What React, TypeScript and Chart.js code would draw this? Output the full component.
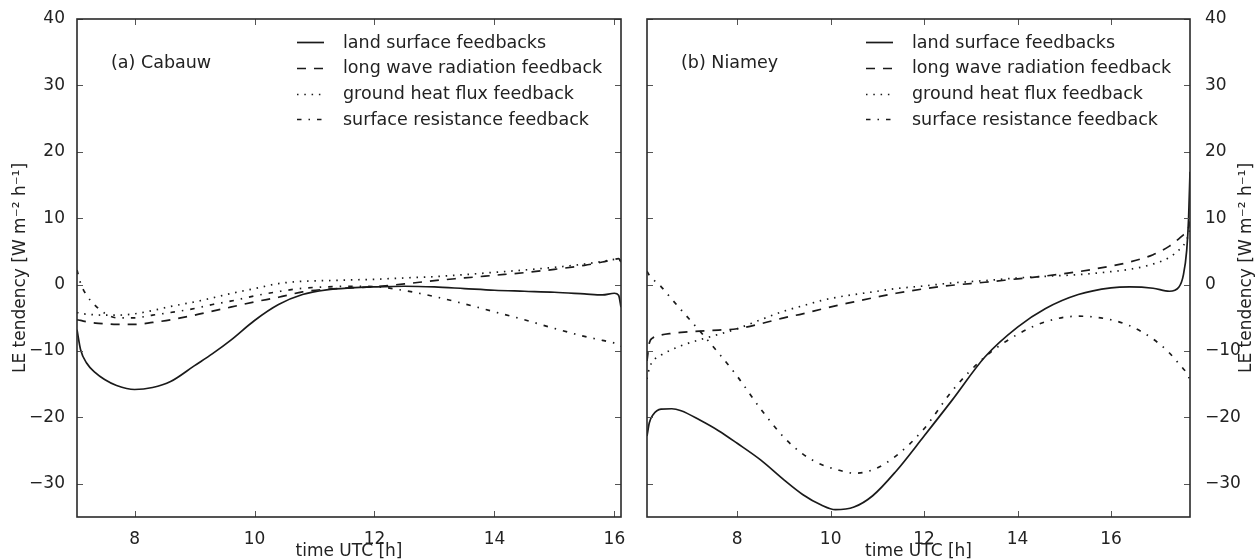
import React, { useEffect, useRef } from "react";
import { Chart, registerables } from "chart.js";

Chart.register(...registerables);

// ---------------- data ----------------
const seriesLabels = [
  "land surface feedbacks",
  "long wave radiation feedback",
  "ground heat flux feedback",
  "surface resistance feedback",
];
const xTicks = [8, 10, 12, 14, 16];
const yTicks = [-30, -20, -10, 0, 10, 20, 30, 40];
const yTitle = "LE tendency [W m\u207B\u00B2 h\u207B\u00B9]";
const xTitle = "time UTC [h]";

// (a) Cabauw
const cabauwLabel = "(a) Cabauw";
const cabauwRange = [7.04, 16.11];
const cabauwHours = [7.04, 7.1, 7.2, 7.35, 7.5, 7.7, 8.0, 8.3, 8.6, 9.0, 9.3, 9.6, 10.0, 10.4, 10.8, 11.2, 11.6, 12.0, 12.5, 13.0, 13.5, 14.0, 14.5, 15.0, 15.5, 15.8, 16.0, 16.07, 16.11];
const cabauwLand = [-6.8, -9.8, -11.8, -13.3, -14.3, -15.2, -15.8, -15.5, -14.6, -12.2, -10.4, -8.4, -5.4, -3.0, -1.5, -0.8, -0.5, -0.35, -0.25, -0.35, -0.6, -0.85, -1.0, -1.15, -1.4, -1.55, -1.3, -1.6, -3.4];
const cabauwLongwave = [-5.3, -5.4, -5.6, -5.8, -5.9, -6.0, -6.0, -5.7, -5.3, -4.6, -4.0, -3.4, -2.6, -1.9, -1.1, -0.7, -0.5, -0.3, 0.1, 0.6, 1.0, 1.4, 1.8, 2.3, 2.9, 3.4, 3.8, 3.9, 3.4];
const cabauwGround = [-4.2, -4.35, -4.45, -4.55, -4.6, -4.6, -4.4, -3.9, -3.3, -2.6, -2.0, -1.35, -0.6, 0.15, 0.5, 0.6, 0.7, 0.8, 1.0, 1.2, 1.5, 1.85, 2.2, 2.6, 3.1, 3.5, 3.8, 3.9, 3.5];
const cabauwResistance = [2.2, 0.2, -1.6, -3.2, -4.3, -5.0, -5.0, -4.6, -4.2, -3.6, -3.0, -2.5, -1.7, -1.05, -0.55, -0.35, -0.25, -0.3, -0.9, -1.8, -2.9, -4.1, -5.3, -6.6, -7.8, -8.4, -8.8, -9.0, -9.3];

// (b) Niamey
const niameyLabel = "(b) Niamey";
const niameyRange = [6.07, 17.69];
const niameyHours = [6.07, 6.12, 6.2, 6.37, 6.6, 6.8, 7.2, 7.6, 8.0, 8.5, 9.0, 9.4, 9.8, 10.1, 10.5, 10.9, 11.4, 12.0, 12.6, 13.3, 14.0, 14.6, 15.3, 16.0, 16.4, 16.9, 17.25, 17.45, 17.55, 17.62, 17.66, 17.69];
const niameyLand = [-22.8, -20.8, -19.6, -18.75, -18.7, -19.0, -20.4, -22.0, -23.9, -26.4, -29.4, -31.6, -33.2, -33.9, -33.5, -31.8, -28.1, -22.8, -17.4, -10.9, -6.4, -3.6, -1.5, -0.5, -0.35, -0.55, -1.0, -0.4, 1.5, 5.2, 10.0, 17.0];
const niameyLongwave = [-11.5, -8.8, -8.0, -7.6, -7.35, -7.2, -7.0, -6.85, -6.65, -5.9, -5.0, -4.4, -3.7, -3.2, -2.6, -2.0, -1.3, -0.63, -0.1, 0.35, 0.87, 1.3, 1.95, 2.8, 3.4, 4.5, 5.8, 6.9, 7.5, 7.9, 8.6, 9.5];
const niameyGround = [-14.2, -12.6, -11.5, -10.6, -9.8, -9.2, -8.3, -7.5, -6.65, -5.3, -4.0, -3.2, -2.4, -1.95, -1.5, -1.1, -0.6, -0.2, 0.25, 0.6, 1.0, 1.25, 1.5, 1.95, 2.3, 3.1, 4.1, 5.2, 5.9, 6.8, 7.5, 8.4];
const niameyResistance = [2.0, 1.4, 0.8, -0.3, -2.2, -3.8, -7.0, -10.3, -13.8, -18.7, -23.0, -25.5, -27.1, -27.8, -28.4, -27.9, -25.8, -21.7, -16.0, -10.9, -7.5, -5.6, -4.75, -5.3, -6.2, -8.2, -10.3, -11.9, -12.7, -13.3, -13.9, -14.5];

// ---------------- styles ----------------
const FONT = "'DejaVu Sans', 'Liberation Sans', sans-serif";
const INK = "#222222";
const LINE_COLOR = "#1a1a1a";
const LINE_WIDTH = 1.7;
const dashes: number[][] = [[], [9, 8], [1.5, 5.8], [4.5, 7, 1.5, 7]];

Chart.defaults.font.family = FONT;
Chart.defaults.font.size = 17;
Chart.defaults.color = INK;

const minus = (v: number) => String(v).replace("-", "\u2212");

const framePlugin = {
  id: "frame",
  afterDraw(chart: any, _args: any, opts: any) {
    const { ctx, chartArea: a, scales } = chart;
    const xs = scales.x;
    const ys = scales.y;
    ctx.save();
    // inward tick marks on all four sides
    ctx.strokeStyle = "#555555";
    ctx.lineWidth = 1;
    ctx.beginPath();
    xs.ticks.forEach((t: any) => {
      const p = Math.round(xs.getPixelForValue(t.value)) + 0.5;
      ctx.moveTo(p, a.bottom);
      ctx.lineTo(p, a.bottom - 6);
      ctx.moveTo(p, a.top);
      ctx.lineTo(p, a.top + 6);
    });
    ys.ticks.forEach((t: any) => {
      const p = Math.round(ys.getPixelForValue(t.value)) + 0.5;
      ctx.moveTo(a.left, p);
      ctx.lineTo(a.left + 6, p);
      ctx.moveTo(a.right, p);
      ctx.lineTo(a.right - 6, p);
    });
    ctx.stroke();
    // frame
    ctx.strokeStyle = "#2a2a2a";
    ctx.lineWidth = 1.6;
    ctx.strokeRect(a.left, a.top, a.right - a.left, a.bottom - a.top);

    // legend
    ctx.font = `17.5px ${FONT}`;
    ctx.fillStyle = INK;
    ctx.textBaseline = "middle";
    ctx.textAlign = "left";
    chart.data.datasets.forEach((ds: any, i: number) => {
      const y = a.top + 23 + i * 25.8;
      ctx.save();
      ctx.strokeStyle = ds.borderColor;
      ctx.lineWidth = ds.borderWidth;
      ctx.setLineDash(ds.borderDash || []);
      ctx.beginPath();
      ctx.moveTo(a.right - 324, Math.round(y) + 0.5);
      ctx.lineTo(a.right - 297, Math.round(y) + 0.5);
      ctx.stroke();
      ctx.restore();
      ctx.fillText(ds.label, a.right - 278, y + 1);
    });

    // panel label
    ctx.fillText(opts.panelLabel, a.left + 34, 63);

    // right-hand axis title (reads bottom-to-top)
    if (opts.rightTitle) {
      ctx.save();
      ctx.font = `17px ${FONT}`;
      ctx.translate(chart.width - 8, (a.top + a.bottom) / 2);
      ctx.rotate(-Math.PI / 2);
      ctx.textAlign = "center";
      ctx.textBaseline = "middle";
      ctx.fillText(yTitle, 0, 0);
      ctx.restore();
    }
    ctx.restore();
  },
};

function buildConfig(
  hours: number[],
  series: number[][],
  range: number[],
  panelLabel: string,
  side: "left" | "right"
) {
  const datasets = series.map((vals, i) => ({
    label: seriesLabels[i],
    data: hours.map((h, j) => ({ x: h, y: vals[j] })),
    borderColor: LINE_COLOR,
    borderWidth: LINE_WIDTH,
    borderDash: dashes[i],
    pointRadius: 0,
    fill: false,
    cubicInterpolationMode: "monotone",
  }));
  const isLeft = side === "left";
  return {
    type: "line",
    data: { datasets },
    plugins: [framePlugin],
    options: {
      animation: false,
      responsive: false,
      events: [],
      layout: {
        padding: isLeft
          ? { left: 0, right: 14, top: 19, bottom: 0 }
          : { left: 12, right: 0, top: 19, bottom: 0 },
      },
      plugins: {
        legend: { display: false },
        tooltip: { enabled: false },
        frame: { panelLabel, rightTitle: !isLeft },
      },
      scales: {
        x: {
          type: "linear",
          position: "bottom",
          min: range[0],
          max: range[1],
          afterBuildTicks: (s: any) => {
            s.ticks = xTicks.map((v) => ({ value: v }));
          },
          afterFit: (s: any) => {
            s.height = 43;
          },
          grid: { display: false },
          border: { display: false },
          ticks: {
            padding: 4,
            maxRotation: 0,
            color: INK,
            callback: (v: any) => minus(v),
          },
          title: {
            display: true,
            text: xTitle,
            color: INK,
            padding: 0,
            font: { size: 17, lineHeight: 1.0 },
          },
        },
        y: {
          type: "linear",
          position: side,
          min: -35,
          max: 40,
          afterBuildTicks: (s: any) => {
            s.ticks = yTicks.map((v) => ({ value: v }));
          },
          afterFit: (s: any) => {
            s.width = isLeft ? 77 : 65;
          },
          grid: { display: false },
          border: { display: false },
          ticks: {
            padding: isLeft ? 4 : 7,
            color: INK,
            callback: (v: any) => minus(v),
          },
          title: {
            display: isLeft,
            text: yTitle,
            color: INK,
            padding: { top: 10, bottom: 0 },
            font: { size: 17 },
          },
        },
      },
    },
  };
}

function Panel(props: {
  hours: number[];
  series: number[][];
  range: number[];
  label: string;
  side: "left" | "right";
  width: number;
  left: number;
}) {
  const ref = useRef<HTMLCanvasElement | null>(null);
  useEffect(() => {
    if (!ref.current) return;
    const chart = new Chart(
      ref.current,
      buildConfig(props.hours, props.series, props.range, props.label, props.side) as any
    );
    return () => chart.destroy();
  }, []);
  return (
    <canvas
      ref={ref}
      width={props.width}
      height={560}
      style={{
        position: "absolute",
        left: props.left,
        top: 0,
        width: props.width,
        height: 560,
        display: "block",
      }}
    />
  );
}

export default function App() {
  return (
    <div
      style={{
        position: "absolute",
        left: 0,
        top: 0,
        width: 1255,
        height: 560,
        background: "#ffffff",
        overflow: "hidden",
      }}
    >
      <Panel
        hours={cabauwHours}
        series={[cabauwLand, cabauwLongwave, cabauwGround, cabauwResistance]}
        range={cabauwRange}
        label={cabauwLabel}
        side="left"
        width={635}
        left={0}
      />
      <Panel
        hours={niameyHours}
        series={[niameyLand, niameyLongwave, niameyGround, niameyResistance]}
        range={niameyRange}
        label={niameyLabel}
        side="right"
        width={620}
        left={635}
      />
    </div>
  );
}
